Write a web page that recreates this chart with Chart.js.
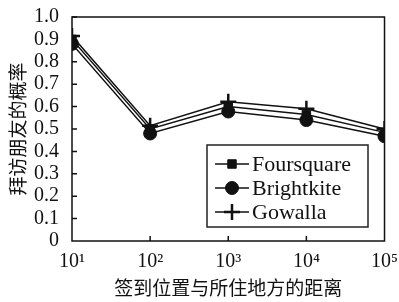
<!DOCTYPE html>
<html>
<head>
<meta charset="utf-8">
<script src="https://cdn.jsdelivr.net/npm/chart.js@4.4.1/dist/chart.umd.min.js"></script>
<style>
  html, body { margin: 0; padding: 0; background: #fff; }
  #wrap { width: 399px; height: 302px; position: relative; }
</style>
</head>
<body>
<div id="wrap"><canvas id="chart"></canvas></div>
<script>
// distance values (log axis)
const distances = [10, 100, 1000, 10000, 100000];
const sup = { 1: "¹", 2: "²", 3: "³", 4: "⁴", 5: "⁵" };

const foursquare = [0.90, 0.50, 0.60, 0.565, 0.485];
const brightkite = [0.88, 0.48, 0.578, 0.54, 0.468];
const gowalla = [0.915, 0.515, 0.622, 0.59, 0.50];

const yTicks = [0, 0.1, 0.2, 0.3, 0.4, 0.5, 0.6, 0.7, 0.8, 0.9, 1.0];

const serif = "'Liberation Serif', 'DejaVu Serif', serif";
const cjk = "'Noto Sans CJK SC', sans-serif";

function pts(arr) {
  return distances.map((d, i) => ({ x: d, y: arr[i] }));
}

// frame + inward ticks
const framePlugin = {
  id: "frame",
  afterDatasetsDraw(chart) {
    const { ctx, chartArea: a, scales } = chart;
    ctx.save();
    ctx.strokeStyle = "#111";
    ctx.lineWidth = 1.5;
    ctx.strokeRect(a.left, a.top, a.right - a.left, a.bottom - a.top);
    ctx.beginPath();
    yTicks.forEach((v) => {
      if (v === 0) return;
      const y = scales.y.getPixelForValue(v);
      ctx.moveTo(a.left, y);
      ctx.lineTo(a.left + 5, y);
    });
    distances.forEach((d, i) => {
      if (i === 0 || i === distances.length - 1) return;
      const x = scales.x.getPixelForValue(d);
      ctx.moveTo(x, a.bottom);
      ctx.lineTo(x, a.bottom - 5);
    });
    ctx.stroke();
    ctx.restore();
  },
};

// legend box in lower right of plot
const legendPlugin = {
  id: "boxLegend",
  afterDraw(chart) {
    const { ctx } = chart;
    const bx = 207, by = 145, bw = 161, bh = 82;
    ctx.save();
    ctx.strokeStyle = "#222";
    ctx.lineWidth = 1.5;
    ctx.fillStyle = "#fff";
    ctx.fillRect(bx, by, bw, bh);
    ctx.strokeRect(bx, by, bw, bh);
    chart.data.datasets.forEach((ds, i) => {
      const y = 164 + i * 24;
      ctx.strokeStyle = "#111";
      ctx.lineWidth = 1.5;
      ctx.beginPath();
      ctx.moveTo(215, y);
      ctx.lineTo(249, y);
      ctx.stroke();
      ctx.fillStyle = "#111";
      ctx.lineWidth = ds.pointBorderWidth;
      Chart.helpers.drawPoint(ctx, {
        pointStyle: ds.pointStyle,
        radius: ds.pointRadius,
        borderWidth: ds.pointBorderWidth,
      }, 232, y);
      ctx.fillStyle = "#111";
      ctx.font = "22px " + serif;
      ctx.textBaseline = "middle";
      ctx.fillText(ds.label, 252, y + 1);
    });
    ctx.restore();
  },
};

function series(label, data, style, radius) {
  return {
    label,
    data: pts(data),
    borderColor: "#111",
    backgroundColor: "#111",
    borderWidth: 1.5,
    pointStyle: style,
    pointRadius: radius,
    pointBorderWidth: style === "cross" ? 2.5 : 1,
    pointBackgroundColor: "#111",
    pointBorderColor: "#111",
    tension: 0,
  };
}

new Chart(document.getElementById("chart"), {
  type: "line",
  data: {
    datasets: [
      series("Foursquare", foursquare, "rect", 6),
      series("Brightkite", brightkite, "circle", 6.5),
      series("Gowalla", gowalla, "cross", 8),
    ],
  },
  options: {
    responsive: true,
    maintainAspectRatio: false,
    animation: false,
    layout: { padding: { top: 14, right: 8, left: 0, bottom: 0 } },
    plugins: { legend: { display: false }, tooltip: { enabled: false } },
    scales: {
      x: {
        type: "logarithmic",
        min: 10,
        max: 100000,
        grid: { display: false },
        border: { display: false },
        afterBuildTicks(scale) {
          scale.ticks = distances.map((d) => ({ value: d }));
        },
        afterFit(scale) {
          scale.height = 61;
        },
        ticks: {
          color: "#111",
          font: { family: serif, size: 20 },
          padding: 1,
          maxRotation: 0,
          autoSkip: false,
          callback: (v) => "10" + sup[Math.round(Math.log10(v))],
        },
        title: {
          display: true,
          text: "签到位置与所住地方的距离",
          color: "#111",
          font: { family: cjk, size: 19 },
          padding: { top: 0, bottom: 3 },
        },
      },
      y: {
        min: 0,
        max: 1,
        grid: { display: false },
        border: { display: false },
        afterBuildTicks(scale) {
          scale.ticks = yTicks.map((v) => ({ value: v }));
        },
        afterFit(scale) {
          scale.width = 72;
        },
        ticks: {
          color: "#111",
          font: { family: serif, size: 20 },
          padding: 5,
          autoSkip: false,
          callback: (v) => (v === 0 ? "0" : v.toFixed(1)),
        },
        title: {
          display: true,
          text: "拜访朋友的概率",
          color: "#111",
          font: { family: cjk, size: 19 },
          padding: { top: 6, bottom: 0 },
        },
      },
    },
  },
  plugins: [framePlugin, legendPlugin],
});
</script>
</body>
</html>
